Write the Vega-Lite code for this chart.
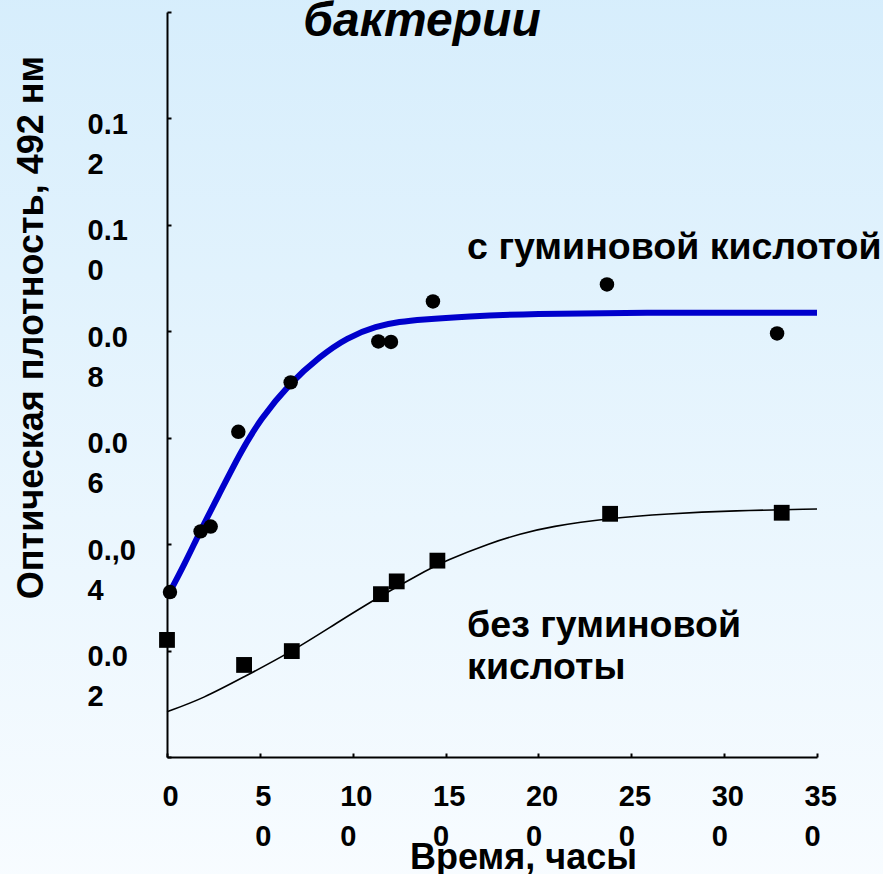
{
  "$schema": "https://vega.github.io/schema/vega-lite/v6.json",
  "autosize": {"type": "none"},
  "width": 650,
  "height": 745,
  "padding": {"left": 167, "top": 12, "right": 66, "bottom": 117},
  "background": "#e9f5fd",
  "config": {"view": {"stroke": null}, "font": "Liberation Sans"},
  "datasets": {
    "blue": [
      {"t": 0, "v": 0.0300}, {"t": 9.7, "v": 0.0364}, {"t": 17.8, "v": 0.0424}, {"t": 27.6, "v": 0.0490},
      {"t": 39.3, "v": 0.0571}, {"t": 50.1, "v": 0.0634}, {"t": 66.2, "v": 0.0703}, {"t": 82.4, "v": 0.0753},
      {"t": 96.8, "v": 0.0788}, {"t": 112.9, "v": 0.0810}, {"t": 125.5, "v": 0.0818}, {"t": 136.2, "v": 0.0822},
      {"t": 161.4, "v": 0.0828}, {"t": 197.1, "v": 0.0833}, {"t": 250.9, "v": 0.0835}, {"t": 350, "v": 0.0835}
    ],
    "black": [
      {"t": 0, "v": 0.0085}, {"t": 19.5, "v": 0.0110}, {"t": 41.1, "v": 0.0150}, {"t": 67.2, "v": 0.0198},
      {"t": 91.4, "v": 0.0252}, {"t": 114.7, "v": 0.0302}, {"t": 134.5, "v": 0.0341}, {"t": 150.6, "v": 0.0370},
      {"t": 173.9, "v": 0.0402}, {"t": 190.1, "v": 0.0419}, {"t": 206.2, "v": 0.0433}, {"t": 238.6, "v": 0.0449},
      {"t": 269.1, "v": 0.0457}, {"t": 305, "v": 0.0463}, {"t": 350, "v": 0.0466}
    ],
    "circles": [
      {"t": 1.6, "v": 0.0310}, {"t": 18.1, "v": 0.0424}, {"t": 23.5, "v": 0.0433}, {"t": 38.4, "v": 0.0611},
      {"t": 66.6, "v": 0.0704}, {"t": 113.8, "v": 0.0781}, {"t": 120.6, "v": 0.0780}, {"t": 143.2, "v": 0.0856},
      {"t": 236.9, "v": 0.0888}, {"t": 328.5, "v": 0.0796}
    ],
    "squares": [
      {"t": 0, "v": 0.0220}, {"t": 41.5, "v": 0.0173}, {"t": 67.2, "v": 0.0199}, {"t": 115.2, "v": 0.0306},
      {"t": 123.7, "v": 0.0330}, {"t": 145.6, "v": 0.0369}, {"t": 238.6, "v": 0.0457}, {"t": 331.0, "v": 0.0459}
    ]
  },
  "layer": [
    {
      "data": {"values": [{}]},
      "mark": {
        "type": "rect",
        "fill": {"gradient": "linear", "x1": 0, "y1": 0, "x2": 0, "y2": 1,
          "stops": [{"offset": 0, "color": "#d5edfc"}, {"offset": 1, "color": "#f8fcff"}]}
      },
      "encoding": {
        "x": {"datum": -100, "type": "quantitative"},
        "x2": {"datum": 420},
        "y": {"datum": 0.15, "type": "quantitative"},
        "y2": {"datum": -0.025}
      }
    },
    {
      "data": {"name": "blue"},
      "mark": {"type": "line", "color": "#0000cc", "strokeWidth": 6, "interpolate": "basis"},
      "encoding": {
        "x": {
          "field": "t", "type": "quantitative",
          "scale": {"domain": [0, 350], "nice": false},
          "axis": {
            "title": "Время, часы",
            "values": [0, 50, 100, 150, 200, 250, 300, 350],
            "labelExpr": "['0', ['5','0'], ['10','0'], ['15','0'], ['20','0'], ['25','0'], ['30','0'], ['35','0']][round(datum.value/50)]",
            "grid": false, "zindex": 1,
            "domainColor": "black", "domainWidth": 2,
            "tickColor": "black", "tickWidth": 2, "tickSize": -4,
            "labelFont": "Liberation Sans", "labelFontSize": 29, "labelFontWeight": "bold", "labelColor": "black",
            "labelLineHeight": 40, "labelBaseline": "alphabetic",
            "labelAlign": {"condition": {"test": "datum.value >= 100", "value": "left"}, "value": "center"},
            "labelOffset": {"condition": {"test": "datum.value >= 100", "value": -13}, "value": 3},
            "labelPadding": 52, "labelFlush": false, "labelOverlap": false,
            "titleFont": "Liberation Sans", "titleFontSize": 36, "titleFontWeight": "bold", "titleColor": "black",
            "titleX": 356, "titleY": 111, "titleBaseline": "alphabetic", "titleAlign": "center"
          }
        },
        "y": {
          "field": "v", "type": "quantitative",
          "scale": {"domain": [0, 0.14], "nice": false},
          "axis": {
            "title": "Оптическая плотность, 492 нм",
            "values": [0, 0.02, 0.04, 0.06, 0.08, 0.10, 0.12, 0.14],
            "labelExpr": "['', ['0.0','2'], ['0.,0','4'], ['0.0','6'], ['0.0','8'], ['0.1','0'], ['0.1','2'], ''][round(datum.value*50)]",
            "grid": false, "zindex": 1,
            "domainColor": "black", "domainWidth": 2,
            "tickColor": "black", "tickWidth": 2, "tickSize": -4,
            "labelFont": "Liberation Sans", "labelFontSize": 29, "labelFontWeight": "bold", "labelColor": "black",
            "labelLineHeight": 40, "labelBaseline": "alphabetic", "labelAlign": "left",
            "labelPadding": 84, "labelOffset": 15, "labelOverlap": false,
            "titleFont": "Liberation Sans", "titleFontSize": 36, "titleFontWeight": "bold", "titleColor": "black",
            "titleX": -125, "titleY": 315, "titleAngle": 270, "titleBaseline": "alphabetic", "titleAlign": "center"
          }
        }
      }
    },
    {
      "data": {"name": "black"},
      "mark": {"type": "line", "color": "black", "strokeWidth": 1.6, "interpolate": "basis"},
      "encoding": {
        "x": {"field": "t", "type": "quantitative"},
        "y": {"field": "v", "type": "quantitative"}
      }
    },
    {
      "data": {"name": "circles"},
      "mark": {"type": "point", "shape": "circle", "filled": true, "color": "black", "opacity": 1, "size": 210},
      "encoding": {
        "x": {"field": "t", "type": "quantitative"},
        "y": {"field": "v", "type": "quantitative"}
      }
    },
    {
      "data": {"name": "squares"},
      "mark": {"type": "point", "shape": "square", "filled": true, "color": "black", "opacity": 1, "size": 250},
      "encoding": {
        "x": {"field": "t", "type": "quantitative"},
        "y": {"field": "v", "type": "quantitative"}
      }
    },
    {
      "data": {"values": [{}]},
      "mark": {"type": "text", "text": "с гуминовой кислотой", "align": "left", "baseline": "alphabetic",
        "font": "Liberation Sans", "fontSize": 37.5, "fontWeight": "bold", "color": "black"},
      "encoding": {"x": {"datum": 161.6, "type": "quantitative"}, "y": {"datum": 0.0935, "type": "quantitative"}}
    },
    {
      "data": {"values": [{}]},
      "mark": {"type": "text", "text": ["без гуминовой", "кислоты"], "align": "left", "baseline": "alphabetic",
        "lineHeight": 42, "font": "Liberation Sans", "fontSize": 37.5, "fontWeight": "bold", "color": "black"},
      "encoding": {"x": {"datum": 161.6, "type": "quantitative"}, "y": {"datum": 0.0226, "type": "quantitative"}}
    },
    {
      "data": {"values": [{}]},
      "mark": {"type": "text", "text": "бактерии", "align": "center", "baseline": "alphabetic",
        "font": "Liberation Sans", "fontSize": 48, "fontStyle": "italic", "fontWeight": "bold", "color": "black"},
      "encoding": {"x": {"datum": 137.3, "type": "quantitative"}, "y": {"datum": 0.1355, "type": "quantitative"}}
    }
  ]
}
